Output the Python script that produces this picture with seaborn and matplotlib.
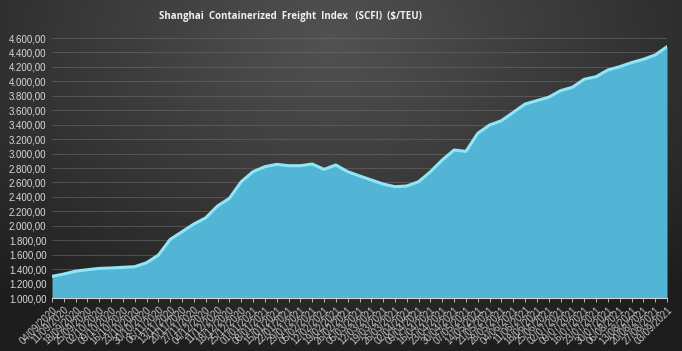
import numpy as np
import pandas as pd
import matplotlib
matplotlib.use("Agg")
import matplotlib.pyplot as plt
import seaborn as sns
from datetime import date, timedelta

# ---- data ----
dates = [(date(2020, 9, 4) + timedelta(weeks=i)).strftime("%d/%m/%Y") for i in range(53)]
scfi = [1300, 1332, 1372, 1392, 1410, 1416, 1425, 1434, 1489, 1595,
        1812, 1918, 2025, 2110, 2275, 2380, 2610, 2749, 2818, 2851,
        2832, 2832, 2855, 2781, 2842, 2749, 2690, 2634, 2578, 2541,
        2551, 2610, 2749, 2911, 3049, 3030, 3280, 3395, 3455, 3570,
        3686, 3733, 3780, 3871, 3918, 4029, 4064, 4157, 4203, 4259,
        4305, 4365, 4480]
y_ticks = list(range(1000, 4601, 200))

df = pd.DataFrame({"idx": np.arange(len(dates)), "date": dates, "scfi": scfi})

sns.set_theme(style="dark")
plt.rcParams["font.family"] = ["Liberation Sans", "DejaVu Sans"]

W, H = 682, 351
fig = plt.figure(figsize=(W / 100, H / 100), dpi=100)

# background radial gradient
bg = fig.add_axes([0, 0, 1, 1], zorder=-10)
yy, xx = np.mgrid[0:H, 0:W]
r = np.sqrt(((xx - 330) / 520.0) ** 2 + ((yy - 40) / 330.0) ** 2)
r = np.clip(r, 0, 1)
lo, hi = np.array([0x1d, 0x1d, 0x1d]) / 255, np.array([0x52, 0x52, 0x52]) / 255
img = hi[None, None, :] * (1 - r[..., None]) + lo[None, None, :] * r[..., None]
bg.imshow(img, aspect="auto", extent=[0, 1, 0, 1], origin="upper")
bg.set_axis_off()

ax = fig.add_axes([52 / W, (H - 298) / H, 615 / W, 260 / H])
ax.patch.set_alpha(0)

ax.fill_between(df["idx"], 1000, df["scfi"], color="#52b5d6", linewidth=0, zorder=2)
sns.lineplot(data=df, x="idx", y="scfi", ax=ax, color="#8fe6f7", linewidth=2.2, zorder=3)

ax.set_xlim(0, len(dates) - 1)
ax.set_ylim(1000, 4600)
ax.set_yticks(y_ticks)
fmt = lambda v: f"{v:,.2f}".replace(",", "X").replace(".", ",").replace("X", ".")
ax.set_yticklabels([fmt(v) for v in y_ticks], color="#d8d8d8", fontsize=7)
ax.set_xticks(df["idx"])
ax.set_xticklabels(dates, rotation=45, ha="right", rotation_mode="anchor",
                   color="#c8c8c8", fontsize=7)
ax.tick_params(axis="x", which="both", bottom=True, length=3, width=0.6, color="#cccccc", pad=2)
ax.tick_params(axis="y", length=0, pad=4)
ax.set_xlabel("")
ax.set_ylabel("")
ax.grid(axis="y", color="#6a6a6a", linewidth=0.6, alpha=0.7, zorder=1)
ax.grid(axis="x", visible=False)
for s in ["top", "right", "left"]:
    ax.spines[s].set_visible(False)
ax.spines["bottom"].set_visible(True)
ax.spines["bottom"].set_color("#d0d0d0")
ax.spines["bottom"].set_linewidth(0.8)
ax.spines["bottom"].set_zorder(4)

fig.text(290 / W, 1 - 17 / H, "Shanghai  Containerized  Freight  Index   (SCFI)  ($/TEU)",
         ha="center", va="center", color="#f0f0f0", fontsize=7.0, fontweight="bold",
         family=["Open Sans", "DejaVu Sans"])

fig.savefig("out.png", dpi=100)
